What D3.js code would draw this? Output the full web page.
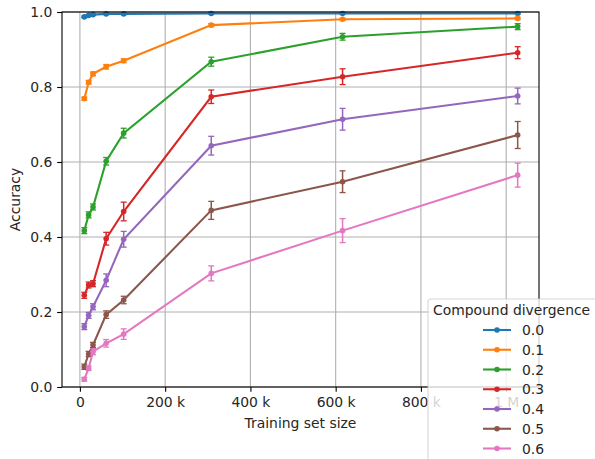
<!DOCTYPE html>
<html>
<head>
<meta charset="utf-8">
<script src="https://cdn.jsdelivr.net/npm/d3@7"></script>
<style>
  html, body { margin: 0; padding: 0; background: #fff; }
  svg { display: block; font-family: "DejaVu Sans", sans-serif; }
</style>
</head>
<body>
<svg id="chart" width="595" height="459"></svg>
<script>
// ---- data ----
const trainSizes = [10300, 20500, 30800, 61600, 102700, 308100, 616200, 1027000];
const divergences = ["0.0", "0.1", "0.2", "0.3", "0.4", "0.5", "0.6"];
const acc00 = [0.987, 0.991, 0.993, 0.995, 0.995, 0.996, 0.996, 0.996];
const acc01 = [0.769, 0.8125, 0.835, 0.854, 0.870, 0.965, 0.9805, 0.983];
const acc02 = [0.417, 0.459, 0.480, 0.602, 0.677, 0.8675, 0.934, 0.961];
const acc03 = [0.2445, 0.272, 0.2755, 0.3955, 0.468, 0.774, 0.8275, 0.8915];
const acc04 = [0.161, 0.191, 0.214, 0.2845, 0.394, 0.6435, 0.714, 0.776];
const acc05 = [0.054, 0.088, 0.112, 0.193, 0.232, 0.471, 0.5475, 0.672];
const acc06 = [0.0205, 0.05, 0.094, 0.1165, 0.141, 0.303, 0.417, 0.565];
const err00 = [0.002, 0.002, 0.002, 0.002, 0.002, 0.002, 0.002, 0.002];
const err01 = [0.004, 0.005, 0.005, 0.006, 0.005, 0.004, 0.003, 0.003];
const err02 = [0.008, 0.008, 0.008, 0.010, 0.013, 0.012, 0.009, 0.008];
const err03 = [0.008, 0.008, 0.008, 0.017, 0.025, 0.018, 0.021, 0.016];
const err04 = [0.008, 0.008, 0.008, 0.017, 0.021, 0.025, 0.029, 0.021];
const err05 = [0.007, 0.007, 0.007, 0.010, 0.010, 0.024, 0.029, 0.036];
const err06 = [0.005, 0.006, 0.008, 0.010, 0.014, 0.020, 0.032, 0.032];
const xTicks = [0, 200000, 400000, 600000, 800000, 1000000];
const xTickLabels = ["0", "200 k", "400 k", "600 k", "800 k", "1 M"];
const yTicks = [0.0, 0.2, 0.4, 0.6, 0.8, 1.0];
const colors = ["#1f77b4", "#ff7f0e", "#2ca02c", "#d62728", "#9467bd", "#8c564b", "#e377c2"];

const seriesAcc = [acc00, acc01, acc02, acc03, acc04, acc05, acc06];
const seriesErr = [err00, err01, err02, err03, err04, err05, err06];

// ---- layout ----
const L = 62, R = 539, T = 12, B = 387;
const FS = 13.9;
const textColor = "#262626";
const svg = d3.select("#chart");

const x = d3.scaleLinear().domain([-42000, 1077000]).range([L, R]);
const y = d3.scaleLinear().domain([0, 1]).range([B, T]);

// grid
const grid = svg.append("g");
grid.selectAll("line.gx").data(xTicks).enter().append("line")
  .attr("x1", d => x(d)).attr("x2", d => x(d)).attr("y1", T).attr("y2", B)
  .attr("stroke", "#b0b0b0").attr("stroke-width", 1.1);
grid.selectAll("line.gy").data(yTicks).enter().append("line")
  .attr("y1", d => y(d)).attr("y2", d => y(d)).attr("x1", L).attr("x2", R)
  .attr("stroke", "#b0b0b0").attr("stroke-width", 1.1);

// series
const line = d3.line().x(d => x(d.x)).y(d => y(d.y));
seriesAcc.forEach((vals, i) => {
  const pts = vals.map((v, j) => ({ x: trainSizes[j], y: v, e: seriesErr[i][j] }));
  const g = svg.append("g").attr("stroke", colors[i]).attr("fill", colors[i]);
  g.append("path").datum(pts).attr("d", line).attr("fill", "none").attr("stroke-width", 2.08);
  const eb = g.selectAll("g.eb").data(pts).enter().append("g");
  eb.append("line").attr("x1", d => x(d.x)).attr("x2", d => x(d.x))
    .attr("y1", d => y(d.y - d.e)).attr("y2", d => y(d.y + d.e)).attr("stroke-width", 1.5);
  eb.append("line").attr("x1", d => x(d.x) - 3).attr("x2", d => x(d.x) + 3)
    .attr("y1", d => y(d.y - d.e)).attr("y2", d => y(d.y - d.e)).attr("stroke-width", 1.3);
  eb.append("line").attr("x1", d => x(d.x) - 3).attr("x2", d => x(d.x) + 3)
    .attr("y1", d => y(d.y + d.e)).attr("y2", d => y(d.y + d.e)).attr("stroke-width", 1.3);
  g.selectAll("circle").data(pts).enter().append("circle")
    .attr("cx", d => x(d.x)).attr("cy", d => y(d.y)).attr("r", 2.8).attr("stroke", "none");
});

// axes
const xAxis = d3.axisBottom(x).tickValues(xTicks).tickSize(4.86).tickPadding(4.86)
  .tickFormat((d, i) => xTickLabels[i]);
const gx = svg.append("g").attr("transform", `translate(0,${B})`).call(xAxis);
const yAxis = d3.axisLeft(y).tickValues(yTicks).tickSize(4.86).tickPadding(4.86)
  .tickFormat(d3.format(".1f"));
const gy = svg.append("g").attr("transform", `translate(${L},0)`).call(yAxis);
[gx, gy].forEach(g => {
  g.select(".domain").remove();
  g.selectAll(".tick line").attr("stroke", "#000").attr("stroke-width", 1.1);
  g.selectAll(".tick text").attr("fill", textColor).attr("font-size", FS)
    .attr("font-family", "DejaVu Sans");
});

// spines
svg.append("rect").attr("x", L).attr("y", T).attr("width", R - L).attr("height", B - T)
  .attr("fill", "none").attr("stroke", "#000").attr("stroke-width", 1.1);

// axis labels
svg.append("text").attr("x", (L + R) / 2).attr("y", 428).attr("text-anchor", "middle")
  .attr("font-size", FS).attr("fill", textColor).text("Training set size");
svg.append("text").attr("transform", `translate(20,${(T + B) / 2}) rotate(-90)`)
  .attr("text-anchor", "middle").attr("font-size", FS).attr("fill", textColor).text("Accuracy");

// legend
const lg = svg.append("g");
lg.append("rect").attr("x", 428).attr("y", 299).attr("width", 200).attr("height", 200).attr("rx", 3)
  .attr("fill", "#fff").attr("fill-opacity", 0.8)
  .attr("stroke", "#cccccc").attr("stroke-opacity", 0.8).attr("stroke-width", 1.1);
lg.append("text").attr("x", 433).attr("y", 315).attr("font-size", FS).attr("fill", textColor)
  .text("Compound divergence");
divergences.forEach((lab, i) => {
  const cy = 330 + i * 19.75;
  lg.append("line").attr("x1", 483).attr("x2", 511).attr("y1", cy).attr("y2", cy)
    .attr("stroke", colors[i]).attr("stroke-width", 2.08);
  lg.append("circle").attr("cx", 497).attr("cy", cy).attr("r", 2.8).attr("fill", colors[i]);
  lg.append("text").attr("x", 522).attr("y", cy).attr("dy", "0.36em").attr("font-size", FS)
    .attr("fill", textColor).text(lab);
});
</script>
</body>
</html>
